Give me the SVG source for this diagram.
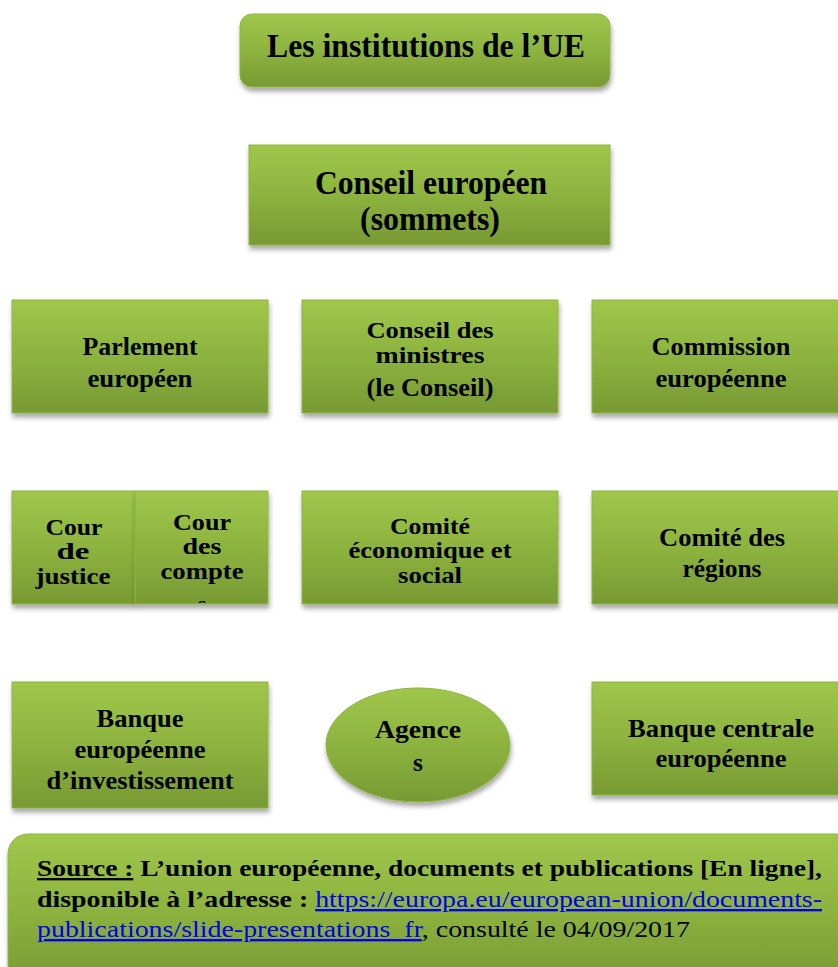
<svg xmlns="http://www.w3.org/2000/svg" width="838" height="967" viewBox="0 0 838 967">
<defs>
<linearGradient id="g" x1="0" y1="0" x2="0" y2="1">
<stop offset="0" stop-color="#9fc74a"/>
<stop offset="0.5" stop-color="#8db33f"/>
<stop offset="1" stop-color="#779a33"/>
</linearGradient>
<filter id="sh" x="-10%" y="-10%" width="130%" height="140%">
<feDropShadow dx="1" dy="4" stdDeviation="2.5" flood-color="#000" flood-opacity="0.35"/>
</filter>
<clipPath id="cc"><rect x="135" y="491" width="133" height="112"/></clipPath>
</defs>
<style>
.b{fill:url(#g);stroke:#8fb443;stroke-width:1;filter:url(#sh)}
.t{font-family:"Liberation Serif","Times New Roman",serif;font-weight:bold;fill:#000;text-anchor:middle}
.m{font-size:25.5px}
.n{font-size:23px}
.l{font-size:33px}
.s{font-family:"Liberation Serif","Times New Roman",serif;font-size:23.5px;fill:#000}
</style>
<g id="title">
<rect class="b" x="240" y="14" width="370" height="73" rx="12"/>
<text class="t l" x="426" y="57" textLength="318" lengthAdjust="spacingAndGlyphs">Les institutions de l’UE</text>
</g>
<g id="conseil-europeen">
<rect class="b" x="249" y="145" width="361" height="100"/>
<text class="t l" x="431" y="194" textLength="232" lengthAdjust="spacingAndGlyphs">Conseil européen</text>
<text class="t l" x="430" y="230" textLength="140" lengthAdjust="spacingAndGlyphs">(sommets)</text>
</g>
<g id="parlement">
<rect class="b" x="12" y="300" width="256" height="113"/>
<text class="t m" x="140" y="355" textLength="115" lengthAdjust="spacingAndGlyphs">Parlement</text>
<text class="t m" x="140" y="387" textLength="105" lengthAdjust="spacingAndGlyphs">européen</text>
</g>
<g id="conseil-ministres">
<rect class="b" x="302" y="300" width="256" height="113"/>
<text class="t n" x="430" y="338" textLength="127" lengthAdjust="spacingAndGlyphs">Conseil des</text>
<text class="t n" x="430" y="363" textLength="109" lengthAdjust="spacingAndGlyphs">ministres</text>
<text class="t m" x="430" y="396" textLength="127" lengthAdjust="spacingAndGlyphs">(le Conseil)</text>
</g>
<g id="commission">
<rect class="b" x="592" y="300" width="256" height="113"/>
<text class="t m" x="721" y="355" textLength="139" lengthAdjust="spacingAndGlyphs">Commission</text>
<text class="t m" x="721" y="387" textLength="131" lengthAdjust="spacingAndGlyphs">européenne</text>
</g>
<g id="cour-justice">
<rect class="b" x="12" y="491" width="123" height="113"/>
<text class="t n" x="74" y="535" textLength="57" lengthAdjust="spacingAndGlyphs">Cour</text>
<text class="t n" x="73" y="559" textLength="33" lengthAdjust="spacingAndGlyphs">de</text>
<text class="t n" x="73" y="584" textLength="75" lengthAdjust="spacingAndGlyphs">justice</text>
</g>
<g id="cour-comptes">
<rect class="b" x="135" y="491" width="133" height="113"/>
<g clip-path="url(#cc)">
<text class="t n" x="202" y="530" textLength="58" lengthAdjust="spacingAndGlyphs">Cour</text>
<text class="t n" x="202" y="554" textLength="39" lengthAdjust="spacingAndGlyphs">des</text>
<text class="t n" x="202" y="579" textLength="83" lengthAdjust="spacingAndGlyphs">compte</text>
<text class="t n" x="202" y="612">s</text>
</g>
</g>
<g id="comite-eco">
<rect class="b" x="302" y="491" width="256" height="113"/>
<text class="t n" x="430" y="534" textLength="80" lengthAdjust="spacingAndGlyphs">Comité</text>
<text class="t n" x="430" y="558" textLength="163" lengthAdjust="spacingAndGlyphs">économique et</text>
<text class="t n" x="430" y="583" textLength="64" lengthAdjust="spacingAndGlyphs">social</text>
</g>
<g id="comite-regions">
<rect class="b" x="592" y="491" width="256" height="113"/>
<text class="t m" x="722" y="546" textLength="126" lengthAdjust="spacingAndGlyphs">Comité des</text>
<text class="t m" x="722" y="577" textLength="79" lengthAdjust="spacingAndGlyphs">régions</text>
</g>
<g id="bei">
<rect class="b" x="12" y="682" width="256" height="126"/>
<text class="t m" x="140" y="727" textLength="87" lengthAdjust="spacingAndGlyphs">Banque</text>
<text class="t m" x="140" y="758" textLength="131" lengthAdjust="spacingAndGlyphs">européenne</text>
<text class="t m" x="140" y="789" textLength="187" lengthAdjust="spacingAndGlyphs">d’investissement</text>
</g>
<g id="agences">
<ellipse class="b" cx="418" cy="745" rx="92" ry="57"/>
<text class="t m" x="418" y="738" textLength="86" lengthAdjust="spacingAndGlyphs">Agence</text>
<text class="t m" x="418" y="771">s</text>
</g>
<g id="bce">
<rect class="b" x="592" y="682" width="256" height="113"/>
<text class="t m" x="721" y="737" textLength="186" lengthAdjust="spacingAndGlyphs">Banque centrale</text>
<text class="t m" x="721" y="767" textLength="131" lengthAdjust="spacingAndGlyphs">européenne</text>
</g>
<g id="source">
<rect class="b" x="8" y="834" width="850" height="150" rx="20"/>
<text class="s" x="37" y="876" textLength="785" lengthAdjust="spacingAndGlyphs"><tspan font-weight="bold" text-decoration="underline">Source :</tspan><tspan font-weight="bold"> L’union européenne, documents et publications [En ligne],</tspan></text>
<text class="s" x="37" y="907" textLength="785" lengthAdjust="spacingAndGlyphs"><tspan font-weight="bold">disponible à l’adresse : </tspan><tspan fill="#0000ee" text-decoration="underline">https://europa.eu/european-union/documents-</tspan></text>
<text class="s" x="37" y="937" textLength="653" lengthAdjust="spacingAndGlyphs"><tspan fill="#0000ee" text-decoration="underline">publications/slide-presentations_fr</tspan>, consulté le 04/09/2017</text>
</g>
<g id="connectors"/>
</svg>
